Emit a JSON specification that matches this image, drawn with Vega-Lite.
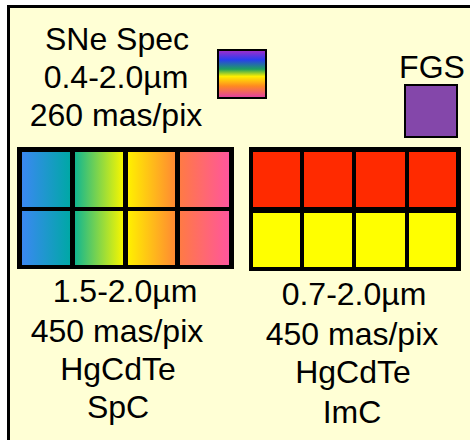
{
  "$schema": "https://vega.github.io/schema/vega-lite/v6.json",
  "width": 470,
  "height": 440,
  "autosize": {"type": "fit", "contains": "padding"},
  "padding": 0,
  "background": "#FFFFFF",
  "view": {"stroke": null},
  "config": {"text": {"font": "Liberation Sans"}},
  "data": {
    "values": [
      {"type": "frame", "x": 8.5, "x2": 490, "y": 6.5, "y2": 460},
      {"type": "block", "x": 17, "x2": 234, "y": 147, "y2": 269},
      {"type": "block", "x": 249, "x2": 461, "y": 147, "y2": 271},
      {"type": "lcell", "col": 1, "x": 22, "x2": 70, "y": 152, "y2": 207},
      {"type": "lcell", "col": 2, "x": 75, "x2": 123, "y": 152, "y2": 207},
      {"type": "lcell", "col": 3, "x": 128, "x2": 175, "y": 152, "y2": 207},
      {"type": "lcell", "col": 4, "x": 180, "x2": 229, "y": 152, "y2": 207},
      {"type": "lcell", "col": 1, "x": 22, "x2": 70, "y": 211, "y2": 265},
      {"type": "lcell", "col": 2, "x": 75, "x2": 123, "y": 211, "y2": 265},
      {"type": "lcell", "col": 3, "x": 128, "x2": 175, "y": 211, "y2": 265},
      {"type": "lcell", "col": 4, "x": 180, "x2": 229, "y": 211, "y2": 265},
      {"type": "rcell", "band": "red", "x": 253, "x2": 300, "y": 152, "y2": 207},
      {"type": "rcell", "band": "red", "x": 304, "x2": 352, "y": 152, "y2": 207},
      {"type": "rcell", "band": "red", "x": 356, "x2": 405, "y": 152, "y2": 207},
      {"type": "rcell", "band": "red", "x": 409, "x2": 456, "y": 152, "y2": 207},
      {"type": "rcell", "band": "yellow", "x": 253, "x2": 300, "y": 213, "y2": 267},
      {"type": "rcell", "band": "yellow", "x": 304, "x2": 352, "y": 213, "y2": 267},
      {"type": "rcell", "band": "yellow", "x": 356, "x2": 405, "y": 213, "y2": 267},
      {"type": "rcell", "band": "yellow", "x": 409, "x2": 456, "y": 213, "y2": 267},
      {"type": "rainbow", "x": 218, "x2": 266, "y": 50, "y2": 98},
      {"type": "fgs", "x": 405, "x2": 457, "y": 85, "y2": 137},
      {"type": "label", "x": 117, "y": 50, "text": "SNe Spec"},
      {"type": "label", "x": 116, "y": 88, "text": "0.4-2.0µm"},
      {"type": "label", "x": 116, "y": 126, "text": "260 mas/pix"},
      {"type": "label", "x": 432, "y": 78, "text": "FGS"},
      {"type": "label", "x": 125, "y": 302, "text": "1.5-2.0µm"},
      {"type": "label", "x": 117, "y": 342, "text": "450 mas/pix"},
      {"type": "label", "x": 118, "y": 380, "text": "HgCdTe"},
      {"type": "label", "x": 118, "y": 418, "text": "SpC"},
      {"type": "label", "x": 354, "y": 305, "text": "0.7-2.0µm"},
      {"type": "label", "x": 352, "y": 345, "text": "450 mas/pix"},
      {"type": "label", "x": 353, "y": 383, "text": "HgCdTe"},
      {"type": "label", "x": 352, "y": 423, "text": "ImC"}
    ]
  },
  "encoding": {
    "x": {"field": "x", "type": "quantitative", "scale": {"domain": [0, 470], "nice": false, "zero": false}, "axis": null},
    "y": {"field": "y", "type": "quantitative", "scale": {"domain": [0, 440], "nice": false, "zero": false, "reverse": true}, "axis": null}
  },
  "layer": [
    {
      "transform": [{"filter": "datum.type === 'frame'"}],
      "mark": {"type": "rect", "fill": "#FFFFD5", "stroke": "#000000", "strokeWidth": 3, "clip": true},
      "encoding": {"x2": {"field": "x2"}, "y2": {"field": "y2"}}
    },
    {
      "transform": [{"filter": "datum.type === 'block'"}],
      "mark": {"type": "rect", "fill": "#000000"},
      "encoding": {"x2": {"field": "x2"}, "y2": {"field": "y2"}}
    },
    {
      "transform": [{"filter": "datum.type === 'lcell' && datum.col === 1"}],
      "mark": {"type": "rect", "fill": {"gradient": "linear", "x1": 0, "y1": 0, "x2": 1, "y2": 0, "stops": [{"offset": 0, "color": "#3B88F2"}, {"offset": 1, "color": "#00A8A6"}]}},
      "encoding": {"x2": {"field": "x2"}, "y2": {"field": "y2"}}
    },
    {
      "transform": [{"filter": "datum.type === 'lcell' && datum.col === 2"}],
      "mark": {"type": "rect", "fill": {"gradient": "linear", "x1": 0, "y1": 0, "x2": 1, "y2": 0, "stops": [{"offset": 0, "color": "#12B690"}, {"offset": 1, "color": "#F6F600"}]}},
      "encoding": {"x2": {"field": "x2"}, "y2": {"field": "y2"}}
    },
    {
      "transform": [{"filter": "datum.type === 'lcell' && datum.col === 3"}],
      "mark": {"type": "rect", "fill": {"gradient": "linear", "x1": 0, "y1": 0, "x2": 1, "y2": 0, "stops": [{"offset": 0, "color": "#FFF000"}, {"offset": 1, "color": "#FF8A32"}]}},
      "encoding": {"x2": {"field": "x2"}, "y2": {"field": "y2"}}
    },
    {
      "transform": [{"filter": "datum.type === 'lcell' && datum.col === 4"}],
      "mark": {"type": "rect", "fill": {"gradient": "linear", "x1": 0, "y1": 0, "x2": 1, "y2": 0, "stops": [{"offset": 0, "color": "#FF7A45"}, {"offset": 1, "color": "#FF569C"}]}},
      "encoding": {"x2": {"field": "x2"}, "y2": {"field": "y2"}}
    },
    {
      "transform": [{"filter": "datum.type === 'rcell'"}],
      "mark": {"type": "rect"},
      "encoding": {
        "x2": {"field": "x2"},
        "y2": {"field": "y2"},
        "fill": {"field": "band", "type": "nominal", "scale": {"domain": ["red", "yellow"], "range": ["#FF2A00", "#FFFF00"]}, "legend": null}
      }
    },
    {
      "transform": [{"filter": "datum.type === 'rainbow'"}],
      "mark": {"type": "rect", "stroke": "#000000", "strokeWidth": 2, "fill": {"gradient": "linear", "x1": 0, "y1": 0, "x2": 0, "y2": 1, "stops": [{"offset": 0, "color": "#A82CC8"}, {"offset": 0.2, "color": "#2A3CF0"}, {"offset": 0.4, "color": "#1EA060"}, {"offset": 0.55, "color": "#FFF000"}, {"offset": 0.75, "color": "#FF8A20"}, {"offset": 1, "color": "#E03CA8"}]}},
      "encoding": {"x2": {"field": "x2"}, "y2": {"field": "y2"}}
    },
    {
      "transform": [{"filter": "datum.type === 'fgs'"}],
      "mark": {"type": "rect", "fill": "#8447AA", "stroke": "#000000", "strokeWidth": 2},
      "encoding": {"x2": {"field": "x2"}, "y2": {"field": "y2"}}
    },
    {
      "transform": [{"filter": "datum.type === 'label'"}],
      "mark": {"type": "text", "fontSize": 32, "align": "center", "baseline": "alphabetic", "color": "#000000"},
      "encoding": {"text": {"field": "text", "type": "nominal"}}
    }
  ]
}
